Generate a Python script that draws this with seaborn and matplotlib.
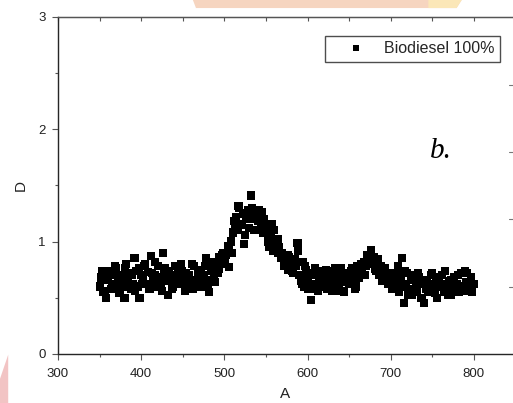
import numpy as np
import pandas as pd
import matplotlib.pyplot as plt
import seaborn as sns
from matplotlib.patches import Polygon
from matplotlib.lines import Line2D
from matplotlib.ticker import MultipleLocator

# wavelength grid (A) and measured values (D), two interleaved sample sets
wavelength_a = list(range(350, 802, 2))
d_a = [
    0.60, 0.68, 0.55, 0.72, 0.50, 0.66, 0.74, 0.58, 0.70, 0.62,
    0.76, 0.64, 0.55, 0.70, 0.60, 0.50, 0.80, 0.67, 0.72, 0.58,
    0.62, 0.85, 0.74, 0.60, 0.50, 0.70, 0.66, 0.78, 0.62, 0.73,
    0.58, 0.87, 0.65, 0.70, 0.60, 0.78, 0.68, 0.62, 0.90, 0.72,
    0.65, 0.52, 0.74, 0.68, 0.60, 0.70, 0.64, 0.72, 0.66, 0.80,
    0.62, 0.68, 0.72, 0.60, 0.70, 0.65, 0.58, 0.78, 0.66, 0.72,
    0.63, 0.75, 0.68, 0.70, 0.85, 0.62, 0.55, 0.74, 0.80, 0.70,
    0.78, 0.72, 0.86, 0.82, 0.90, 0.80, 0.88, 0.95, 0.77, 1.00,
    1.08, 1.18, 1.22, 1.10, 1.30, 1.15, 1.25, 0.98, 1.20, 1.28,
    1.12, 1.41, 1.20, 1.10, 1.25, 1.18, 1.28, 1.15, 1.08, 1.20,
    1.15, 1.00, 0.95, 1.05, 0.92, 1.10, 0.98, 0.90, 0.95, 0.85,
    0.88, 0.78, 0.82, 0.75, 0.86, 0.80, 0.72, 0.84, 0.78, 0.99,
    0.70, 0.65, 0.82, 0.60, 0.75, 0.68, 0.72, 0.48, 0.62, 0.70,
    0.58, 0.74, 0.66, 0.60, 0.70, 0.64, 0.75, 0.58, 0.68, 0.62,
    0.72, 0.56, 0.66, 0.70, 0.60, 0.76, 0.64, 0.55, 0.68, 0.72,
    0.62, 0.74, 0.66, 0.70, 0.60, 0.78, 0.68, 0.80, 0.72, 0.82,
    0.78, 0.88, 0.85, 0.92, 0.80, 0.86, 0.74, 0.82, 0.70, 0.78,
    0.65, 0.75, 0.68, 0.72, 0.62, 0.70, 0.58, 0.66, 0.60, 0.72,
    0.55, 0.68, 0.85, 0.45, 0.62, 0.72, 0.58, 0.66, 0.52, 0.70,
    0.60, 0.55, 0.68, 0.50, 0.62, 0.45, 0.58, 0.66, 0.55, 0.62,
    0.72, 0.58, 0.64, 0.50, 0.66, 0.60, 0.70, 0.55, 0.62, 0.58,
    0.65, 0.52, 0.60, 0.68, 0.58, 0.62, 0.55, 0.72, 0.60, 0.56,
    0.64, 0.72, 0.58, 0.68, 0.55, 0.62,
]
wavelength_b = list(range(353, 800, 4))
d_b = [
    0.74, 0.56, 0.70, 0.62, 0.78, 0.54, 0.68, 0.76, 0.60, 0.70,
    0.56, 0.76, 0.62, 0.80, 0.58, 0.72, 0.82, 0.64, 0.56, 0.76,
    0.70, 0.58, 0.78, 0.62, 0.74, 0.56, 0.70, 0.80, 0.60, 0.74,
    0.60, 0.78, 0.66, 0.82, 0.64, 0.76, 0.88, 0.84, 0.96, 0.90,
    1.12, 1.32, 1.16, 1.06, 1.24, 1.30, 1.10, 1.22, 1.26, 1.14,
    1.08, 1.16, 0.96, 1.02, 0.90, 0.80, 0.88, 0.74, 0.84, 0.92,
    0.62, 0.78, 0.58, 0.70, 0.76, 0.56, 0.70, 0.62, 0.74, 0.56,
    0.76, 0.62, 0.56, 0.70, 0.64, 0.76, 0.58, 0.74, 0.80, 0.70,
    0.86, 0.80, 0.76, 0.84, 0.66, 0.76, 0.62, 0.72, 0.66, 0.78,
    0.60, 0.74, 0.52, 0.66, 0.58, 0.72, 0.50, 0.62, 0.56, 0.70,
    0.54, 0.68, 0.60, 0.74, 0.52, 0.66, 0.60, 0.70, 0.56, 0.74,
    0.60, 0.68,
]
series_name = "Biodiesel 100%"

df = pd.DataFrame({"A": wavelength_a + wavelength_b, "D": d_a + d_b})
df = df.sort_values("A")
df["series"] = series_name

sns.set_style("ticks")
plt.rcParams["font.family"] = ["Liberation Sans", "DejaVu Sans"]

fig = plt.figure(figsize=(5.13, 4.03), dpi=100)
ax = fig.add_axes([0.113, 0.122, 0.887, 0.836])

sns.scatterplot(data=df, x="A", y="D", hue="series", palette=["black"],
                marker="s", s=34, edgecolor="none", linewidth=0, ax=ax)

ax.set_xlim(300, 847)
ax.set_ylim(0, 3)
ax.xaxis.set_major_locator(MultipleLocator(100))
ax.xaxis.set_minor_locator(MultipleLocator(50))
ax.yaxis.set_major_locator(MultipleLocator(1))
ax.yaxis.set_minor_locator(MultipleLocator(0.5))

spine_col = "#555555"
for side in ["left", "bottom", "top"]:
    ax.spines[side].set_color(spine_col)
    ax.spines[side].set_linewidth(1.0)
ax.spines["right"].set_visible(False)

ax.tick_params(axis="both", which="major", direction="out", length=4,
               width=0.8, color=spine_col, labelsize=9.5, labelcolor="#222222")
ax.tick_params(axis="both", which="minor", direction="out", length=2.5,
               width=0.8, color=spine_col)
ax.tick_params(axis="x", which="major", pad=6)
ax.tick_params(axis="y", which="major", pad=5)

# top ticks point inward
top = ax.twiny()
top.set_xlim(ax.get_xlim())
top.xaxis.set_major_locator(MultipleLocator(50))
top.tick_params(axis="x", direction="in", length=3, width=0.8, color=spine_col,
                labeltop=False)
top.spines["right"].set_visible(False)
top.spines["top"].set_color(spine_col)

ax.set_xlabel("A", fontsize=11, color="#222222", labelpad=5)
ax.set_ylabel("D", fontsize=11, color="#222222", labelpad=7)

leg = ax.legend(loc="upper right", bbox_to_anchor=(0.971, 0.944),
                borderaxespad=0, frameon=True, fancybox=False,
                edgecolor="#222222", fontsize=11.5, handlelength=3.1,
                handletextpad=0.2, borderpad=0.35, markerscale=0.85)
leg.get_frame().set_linewidth(1.0)

ax.text(0.818, 0.58, "b.", transform=ax.transAxes, fontsize=21,
        fontstyle="italic", family="Liberation Serif", color="black",
        va="baseline")

# watermark fragments and neighbour-panel ticks at the image edges
fig.patches.append(Polygon([[0.376, 1.0], [0.90, 1.0], [0.89, 0.98], [0.382, 0.98]],
                           closed=True, transform=fig.transFigure,
                           facecolor="#f6d5c0", edgecolor="none", zorder=-1))
fig.patches.append(Polygon([[0.835, 1.0], [0.90, 1.0], [0.89, 0.98], [0.835, 0.98]],
                           closed=True, transform=fig.transFigure,
                           facecolor="#fbe7b8", edgecolor="none", zorder=-1))
fig.patches.append(Polygon([[0.0, 0.0], [0.016, 0.0], [0.016, 0.12], [0.0, 0.06]],
                           closed=True, transform=fig.transFigure,
                           facecolor="#f2c4c4", edgecolor="none", zorder=-1))
for fy in [0.789, 0.623, 0.457, 0.288]:
    fig.add_artist(Line2D([0.992, 1.0], [fy, fy], transform=fig.transFigure,
                          color="#777777", linewidth=0.8))

fig.savefig("out.png", dpi=100)
plt.close(fig)
